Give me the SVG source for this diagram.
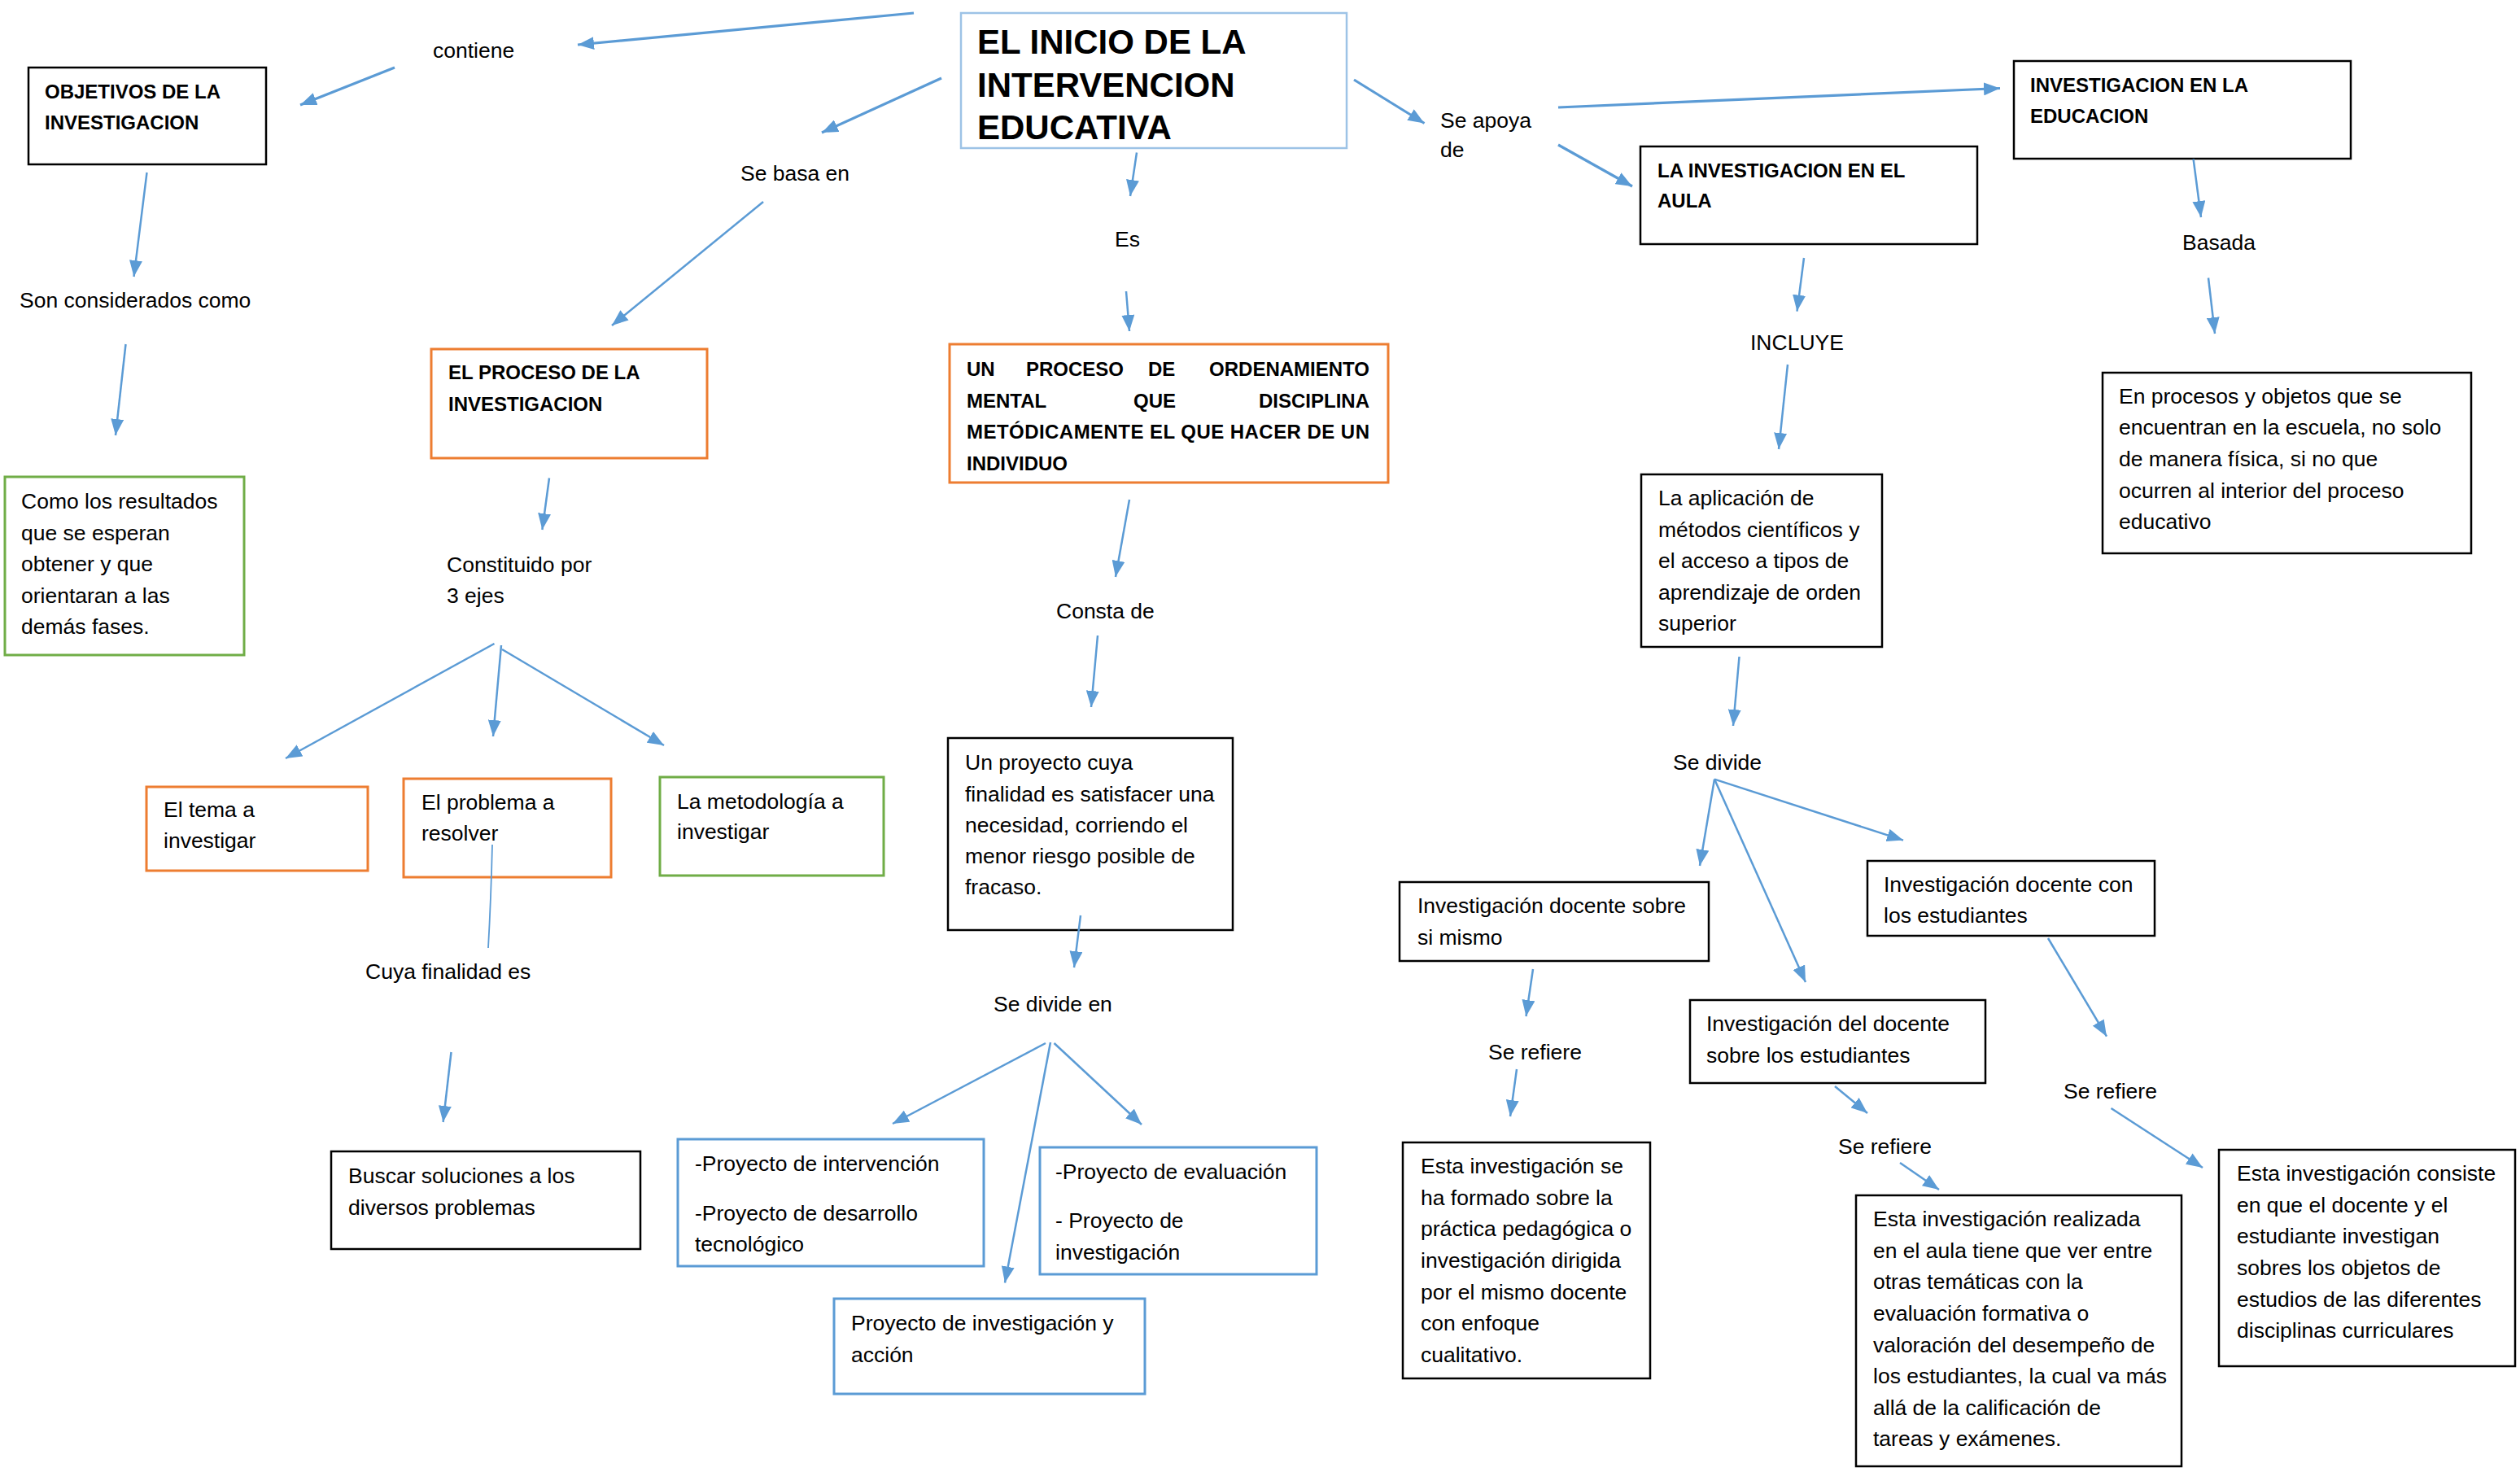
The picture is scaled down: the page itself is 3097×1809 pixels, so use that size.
<svg xmlns="http://www.w3.org/2000/svg" width="3097" height="1809" viewBox="0 0 3097 1809">
<style>
text { font-family: "Liberation Sans", Arial, sans-serif; fill: #000; }
.t { font-size: 26.5px; }
.b { font-size: 24px; font-weight: bold; }
.title { font-size: 42px; font-weight: bold; }
rect { fill: #fff; stroke-width: 2.5; }
.bk { stroke: #000; }
.or { stroke: #ED7D31; stroke-width: 3; }
.gr { stroke: #70AD47; stroke-width: 3; }
.bl { stroke: #5B9BD5; stroke-width: 3; }
.lb { stroke: #9DC3E6; stroke-width: 2.5; }
.c { stroke: #5B9BD5; stroke-width: 2.5; fill: none; marker-end: url(#ah); }
.c2 { stroke: #5B9BD5; stroke-width: 3.2; fill: none; marker-end: url(#ah); }
.ln { stroke: #5B9BD5; stroke-width: 1.8; fill: none; }
</style>
<defs>
<marker id="ah" markerUnits="userSpaceOnUse" markerWidth="22" markerHeight="16" refX="20" refY="8" orient="auto">
<path d="M0,0 L20,8 L0,16 z" fill="#5B9BD5"/>
</marker>
</defs>
<rect x="0" y="0" width="3097" height="1809" style="fill:#fff;stroke:none"/>

<g id="nodes">
<g id="n-title"><rect class="lb" x="1181" y="16" width="474" height="166"/>
<text class="title"><tspan x="1201" y="66">EL INICIO DE LA</tspan><tspan x="1201" y="119">INTERVENCION</tspan><tspan x="1201" y="171">EDUCATIVA</tspan></text></g>

<g id="n-objetivos"><rect class="bk" x="35" y="83" width="292" height="119"/>
<text class="b"><tspan x="55" y="121">OBJETIVOS DE LA</tspan><tspan x="55" y="159">INVESTIGACION</tspan></text></g>

<g id="n-proceso-inv"><rect class="or" x="530" y="429" width="339" height="134"/>
<text class="b"><tspan x="551" y="466">EL PROCESO DE LA</tspan><tspan x="551" y="505">INVESTIGACION</tspan></text></g>

<g id="n-ordenamiento"><rect class="or" x="1167" y="423" width="539" height="170"/>
<text class="b" x="1188" y="462">UN</text>
<text class="b" x="1261" y="462">PROCESO</text>
<text class="b" x="1411" y="462">DE</text>
<text class="b" x="1683" y="462" text-anchor="end">ORDENAMIENTO</text>
<text class="b" x="1188" y="501">MENTAL</text>
<text class="b" x="1393" y="501">QUE</text>
<text class="b" x="1683" y="501" text-anchor="end">DISCIPLINA</text>
<text class="b" x="1188" y="539" textLength="495" lengthAdjust="spacing">METÓDICAMENTE EL QUE HACER DE UN</text>
<text class="b" x="1188" y="578">INDIVIDUO</text></g>

<g id="n-resultados"><rect class="gr" x="6" y="586" width="294" height="219"/>
<text class="t"><tspan x="26" y="625">Como los resultados</tspan><tspan x="26" y="663.5">que se esperan</tspan><tspan x="26" y="702">obtener y que</tspan><tspan x="26" y="740.5">orientaran a las</tspan><tspan x="26" y="779">demás fases.</tspan></text></g>

<g id="n-tema"><rect class="or" x="180" y="967" width="272" height="103"/>
<text class="t"><tspan x="201" y="1004">El tema a</tspan><tspan x="201" y="1042">investigar</tspan></text></g>

<g id="n-problema"><rect class="or" x="496" y="957" width="255" height="121"/>
<text class="t"><tspan x="518" y="995">El problema a</tspan><tspan x="518" y="1033">resolver</tspan></text></g>

<g id="n-metodologia"><rect class="gr" x="811" y="955" width="275" height="121"/>
<text class="t"><tspan x="832" y="994">La metodología a</tspan><tspan x="832" y="1031">investigar</tspan></text></g>

<g id="n-proyecto"><rect class="bk" x="1165" y="907" width="350" height="236"/>
<text class="t"><tspan x="1186" y="946">Un proyecto cuya</tspan><tspan x="1186" y="985">finalidad es satisfacer una</tspan><tspan x="1186" y="1023">necesidad, corriendo el</tspan><tspan x="1186" y="1061">menor riesgo posible de</tspan><tspan x="1186" y="1099">fracaso.</tspan></text></g>

<g id="n-buscar"><rect class="bk" x="407" y="1415" width="380" height="120"/>
<text class="t"><tspan x="428" y="1454">Buscar soluciones a los</tspan><tspan x="428" y="1493">diversos problemas</tspan></text></g>

<g id="n-intervencion"><rect class="bl" x="833" y="1400" width="376" height="156"/>
<text class="t"><tspan x="854" y="1439">-Proyecto de intervención</tspan><tspan x="854" y="1500">-Proyecto de desarrollo</tspan><tspan x="854" y="1538">tecnológico</tspan></text></g>

<g id="n-evaluacion"><rect class="bl" x="1278" y="1410" width="340" height="156"/>
<text class="t"><tspan x="1297" y="1449">-Proyecto de evaluación</tspan><tspan x="1297" y="1509">- Proyecto de</tspan><tspan x="1297" y="1548">investigación</tspan></text></g>

<g id="n-accion"><rect class="bl" x="1025" y="1596" width="382" height="117"/>
<text class="t"><tspan x="1046" y="1635">Proyecto de investigación y</tspan><tspan x="1046" y="1674">acción</tspan></text></g>

<g id="n-inv-educacion"><rect class="bk" x="2475" y="75" width="414" height="120"/>
<text class="b"><tspan x="2495" y="112.5">INVESTIGACION EN LA</tspan><tspan x="2495" y="151">EDUCACION</tspan></text></g>

<g id="n-inv-aula"><rect class="bk" x="2016" y="180" width="414" height="120"/>
<text class="b"><tspan x="2037" y="218">LA INVESTIGACION EN EL</tspan><tspan x="2037" y="255">AULA</tspan></text></g>

<g id="n-aplicacion"><rect class="bk" x="2017" y="583" width="296" height="212"/>
<text class="t"><tspan x="2038" y="621">La aplicación de</tspan><tspan x="2038" y="659.5">métodos científicos y</tspan><tspan x="2038" y="698">el acceso a tipos de</tspan><tspan x="2038" y="736.5">aprendizaje de orden</tspan><tspan x="2038" y="775">superior</tspan></text></g>

<g id="n-procesos"><rect class="bk" x="2584" y="458" width="453" height="222"/>
<text class="t"><tspan x="2604" y="495.5">En procesos y objetos que se</tspan><tspan x="2604" y="534">encuentran en la escuela, no solo</tspan><tspan x="2604" y="573">de manera física, si no que</tspan><tspan x="2604" y="611.5">ocurren al interior del proceso</tspan><tspan x="2604" y="650">educativo</tspan></text></g>

<g id="n-si-mismo"><rect class="bk" x="1720" y="1084" width="380" height="97"/>
<text class="t"><tspan x="1742" y="1122">Investigación docente sobre</tspan><tspan x="1742" y="1161">si mismo</tspan></text></g>

<g id="n-con-estudiantes"><rect class="bk" x="2295" y="1058" width="353" height="92"/>
<text class="t"><tspan x="2315" y="1096">Investigación docente con</tspan><tspan x="2315" y="1134">los estudiantes</tspan></text></g>

<g id="n-sobre-estudiantes"><rect class="bk" x="2077" y="1229" width="363" height="102"/>
<text class="t"><tspan x="2097" y="1267">Investigación del docente</tspan><tspan x="2097" y="1306">sobre los estudiantes</tspan></text></g>

<g id="n-def-si-mismo"><rect class="bk" x="1724" y="1404" width="304" height="290"/>
<text class="t"><tspan x="1746" y="1442">Esta investigación se</tspan><tspan x="1746" y="1481">ha formado sobre la</tspan><tspan x="1746" y="1519">práctica pedagógica o</tspan><tspan x="1746" y="1558">investigación dirigida</tspan><tspan x="1746" y="1597">por el mismo docente</tspan><tspan x="1746" y="1635">con enfoque</tspan><tspan x="1746" y="1674">cualitativo.</tspan></text></g>

<g id="n-def-sobre"><rect class="bk" x="2281" y="1469" width="400" height="333"/>
<text class="t"><tspan x="2302" y="1507">Esta investigación realizada</tspan><tspan x="2302" y="1546">en el aula tiene que ver entre</tspan><tspan x="2302" y="1584">otras temáticas con la</tspan><tspan x="2302" y="1623">evaluación formativa o</tspan><tspan x="2302" y="1662">valoración del desempeño de</tspan><tspan x="2302" y="1700">los estudiantes, la cual va más</tspan><tspan x="2302" y="1739">allá de la calificación de</tspan><tspan x="2302" y="1777">tareas y exámenes.</tspan></text></g>

<g id="n-def-con"><rect class="bk" x="2727" y="1413" width="364" height="266"/>
<text class="t"><tspan x="2749" y="1451">Esta investigación consiste</tspan><tspan x="2749" y="1489.5">en que el docente y el</tspan><tspan x="2749" y="1528">estudiante investigan</tspan><tspan x="2749" y="1567">sobres los objetos de</tspan><tspan x="2749" y="1605.5">estudios de las diferentes</tspan><tspan x="2749" y="1644">disciplinas curriculares</tspan></text></g>
</g>

<g id="labels">
<text class="t" x="532" y="71">contiene</text>
<text class="t" x="910" y="222">Se basa en</text>
<text class="t" x="24" y="378">Son considerados como</text>
<text class="t" x="1370" y="303">Es</text>
<text class="t"><tspan x="1770" y="157">Se apoya</tspan><tspan x="1770" y="193">de</tspan></text>
<text class="t" x="2682" y="307">Basada</text>
<text class="t" x="2151" y="429.5">INCLUYE</text>
<text class="t"><tspan x="549" y="703">Constituido por</tspan><tspan x="549" y="741">3 ejes</tspan></text>
<text class="t" x="1298" y="760">Consta de</text>
<text class="t" x="449" y="1203">Cuya finalidad es</text>
<text class="t" x="1221" y="1242.5">Se divide en</text>
<text class="t" x="2056" y="945.5">Se divide</text>
<text class="t" x="1829" y="1302">Se refiere</text>
<text class="t" x="2536" y="1350">Se refiere</text>
<text class="t" x="2259" y="1418">Se refiere</text>
</g>

<g id="connectors">
<line class="c2" x1="1123" y1="16" x2="710" y2="55"/>
<line class="c2" x1="485" y1="83" x2="369" y2="129"/>
<line class="c2" x1="1157" y1="96" x2="1010" y2="163"/>
<line class="c" x1="180.5" y1="212" x2="164.5" y2="340"/>
<line class="c" x1="154.5" y1="423" x2="142" y2="535"/>
<line class="c" x1="938" y1="248" x2="752" y2="400"/>
<line class="c" x1="1397" y1="187.5" x2="1389" y2="241"/>
<line class="c" x1="1384" y1="358" x2="1388" y2="407"/>
<line class="c2" x1="1664" y1="98" x2="1750.5" y2="151.5"/>
<line class="c2" x1="1915" y1="178" x2="2006" y2="229"/>
<line class="c2" x1="1915" y1="132" x2="2458" y2="108.5"/>
<line class="c" x1="1388" y1="614" x2="1371" y2="709"/>
<line class="c" x1="1349" y1="781" x2="1341" y2="869"/>
<line class="c" x1="1328" y1="1125" x2="1320" y2="1189"/>
<line class="c" x1="2217" y1="317" x2="2208.5" y2="382.6"/>
<line class="c" x1="2197" y1="448" x2="2186" y2="552"/>
<line class="c" x1="2695.6" y1="195.5" x2="2705" y2="267"/>
<line class="c" x1="2714" y1="341.5" x2="2722" y2="410"/>
<line class="c" x1="675" y1="587.5" x2="666.4" y2="651"/>
<line class="c" x1="607.5" y1="791" x2="351" y2="932"/>
<line class="c" x1="616" y1="793" x2="606" y2="905"/>
<line class="c" x1="617" y1="798" x2="816" y2="916"/>
<path class="ln" d="M605,1038 C604,1080 602,1130 600,1165"/>
<line class="c" x1="554.5" y1="1293" x2="544.6" y2="1379"/>
<line class="c" x1="1285" y1="1282" x2="1097" y2="1381"/>
<line class="c" x1="1291" y1="1281" x2="1235" y2="1576.5"/>
<line class="c" x1="1295.5" y1="1282" x2="1403" y2="1382"/>
<line class="c" x1="2137.5" y1="807" x2="2130" y2="892"/>
<line class="c" x1="2107" y1="957.6" x2="2089" y2="1064"/>
<line class="c" x1="2107" y1="957.6" x2="2219" y2="1207"/>
<line class="c" x1="2107" y1="957.6" x2="2339" y2="1032.6"/>
<line class="c" x1="1884" y1="1191" x2="1875.5" y2="1249"/>
<line class="c" x1="1864" y1="1314" x2="1856" y2="1372"/>
<line class="c" x1="2517" y1="1153" x2="2589" y2="1273.7"/>
<line class="c" x1="2255" y1="1335" x2="2295" y2="1368"/>
<line class="c" x1="2335" y1="1429" x2="2383" y2="1462"/>
<line class="c" x1="2594.5" y1="1362" x2="2707" y2="1435"/>
</g>
</svg>
